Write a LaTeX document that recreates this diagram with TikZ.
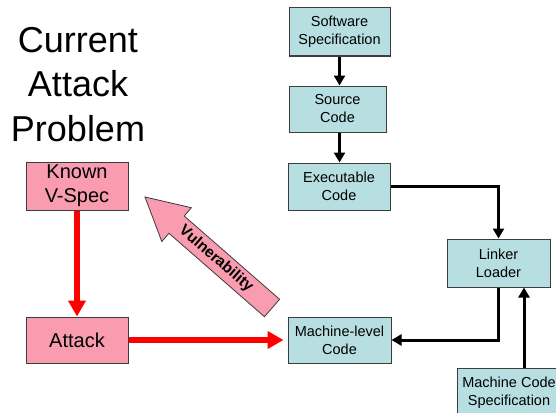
\documentclass[tikz,border=0pt]{standalone}
\usepackage{fontspec}
\setmainfont{Liberation Sans}
\usetikzlibrary{arrows.meta}
\definecolor{teal1}{RGB}{183,223,226}
\definecolor{pink1}{RGB}{249,156,176}
\definecolor{edge1}{RGB}{60,60,60}
\tikzset{
  sbox/.style={draw=edge1, line width=1pt, fill=teal1, align=center, inner sep=0pt,
    font=\fontsize{14.5}{18}\selectfont},
  pbox/.style={draw=edge1, line width=1pt, fill=pink1, align=center, inner sep=0pt,
    minimum width=102pt, minimum height=46pt, font=\fontsize{20}{24}\selectfont},
  blk/.style={line width=3pt, -{Triangle[length=10pt,width=11pt]}},
  redarr/.style={draw=red, line width=6pt, -{Triangle[length=16pt,width=17pt]}},
}
\begin{document}
\begin{tikzpicture}[x=1pt,y=-1pt]
\useasboundingbox (0,0) rectangle (556,412);
\clip (0,0) rectangle (556,412);
\fill[white] (0,0) rectangle (556,412);

\node[anchor=north, inner sep=0pt, align=center, font=\fontsize{36}{44.5}\selectfont] (title) at (78,27) {Current\\Attack\\Problem};

\node[sbox, minimum width=101pt, minimum height=48pt] (ss) at (339.5,32) {Software\\Specification};
\node[sbox, minimum width=97pt, minimum height=46pt] (sc) at (337.5,109) {Source\\Code};
\node[sbox, minimum width=102pt, minimum height=47pt] (ec) at (339,186.5) {Executable\\Code};
\node[sbox, minimum width=103pt, minimum height=48pt] (ll) at (498.5,263) {Linker\\Loader};
\node[sbox, minimum width=103pt, minimum height=46pt] (ml) at (339.5,340) {Machine-level\\Code};
\node[sbox, minimum width=104pt, minimum height=48pt, anchor=north] (mcs) at (509,368) {Machine Code\\Specification};

\node[pbox] (kv) at (77,186) {\raisebox{-2pt}{\begin{tabular}{@{}c@{}}Known\\V-Spec\end{tabular}}};
\node[pbox] (at) at (77,340) {Attack};

\draw[blk] (ss.south) -- (ss.south |- sc.north);
\draw[blk] (ss.south |- sc.south) -- (ss.south |- ec.north);
\draw[blk] (ec.east) -| (ll.north);
\draw[blk] (ll.south) |- (ml.east);
\draw[blk] ([xshift=15pt]mcs.north) -- ([xshift=15pt]mcs.north |- ll.south);

\draw[redarr] (kv.south) -- (at.north);
\draw[redarr, shorten >=4pt] (at.east) -- (ml.west);

% Vulnerability block arrow
\draw[draw=edge1, line width=0.8pt, fill=pink1]
  (279.6,299.3) -- (184.2,216.0) -- (191.4,207.7) -- (145,197) -- (161.8,241.5)
  -- (169.0,233.3) -- (264.4,316.7) -- cycle;
\node[rotate=-41, font=\fontsize{15.5}{17}\selectfont\bfseries, inner sep=0pt] (vul) at (216,259) {Vulnerability};
\end{tikzpicture}
\end{document}
